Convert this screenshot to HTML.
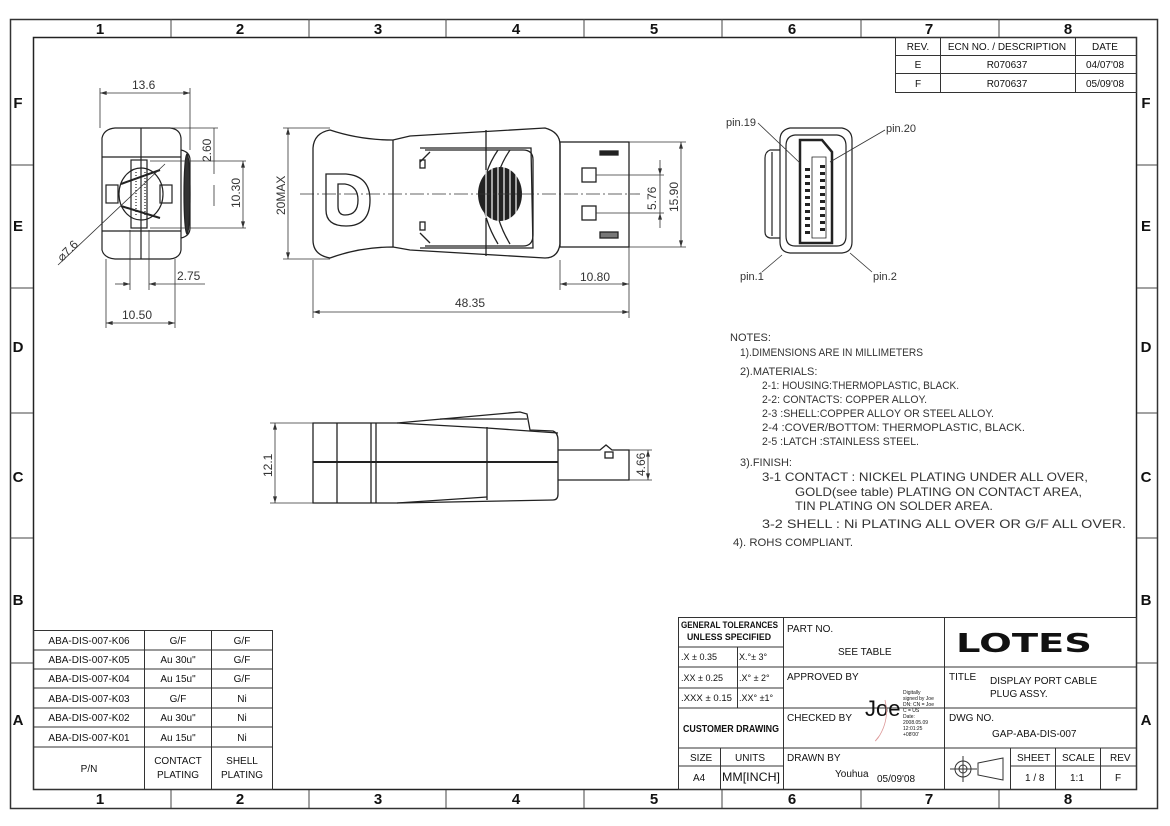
<!DOCTYPE html>
<html><head><meta charset="utf-8"><style>
html,body{margin:0;padding:0;background:#fff}
svg{display:block}
text{font-family:"Liberation Sans",sans-serif}
</style></head><body>
<svg width="1170" height="826" viewBox="0 0 1170 826" xmlns="http://www.w3.org/2000/svg">
<defs>
<marker id="a" viewBox="0 0 10 6" refX="10" refY="3" markerWidth="8" markerHeight="4" orient="auto-start-reverse" markerUnits="userSpaceOnUse"><path d="M0 0 L10 3 L0 6 Z" fill="#333"/></marker>
</defs>
<rect width="1170" height="826" fill="#fff"/>
<!-- frame -->
<rect x="10.5" y="19.5" width="1147" height="789" fill="none" stroke="#333" stroke-width="1.5"/>
<rect x="33.5" y="37.5" width="1103" height="752" fill="none" stroke="#222" stroke-width="1.5"/>
<g stroke="#444" stroke-width="1">
<line x1="171" y1="19" x2="171" y2="37"/><line x1="309" y1="19" x2="309" y2="37"/><line x1="446" y1="19" x2="446" y2="37"/><line x1="584" y1="19" x2="584" y2="37"/><line x1="722" y1="19" x2="722" y2="37"/><line x1="861" y1="19" x2="861" y2="37"/><line x1="999" y1="19" x2="999" y2="37"/>
<line x1="171" y1="790" x2="171" y2="808"/><line x1="309" y1="790" x2="309" y2="808"/><line x1="446" y1="790" x2="446" y2="808"/><line x1="584" y1="790" x2="584" y2="808"/><line x1="722" y1="790" x2="722" y2="808"/><line x1="861" y1="790" x2="861" y2="808"/><line x1="999" y1="790" x2="999" y2="808"/>
<line x1="10" y1="165" x2="33" y2="165"/><line x1="10" y1="288" x2="33" y2="288"/><line x1="10" y1="413" x2="33" y2="413"/><line x1="10" y1="538" x2="33" y2="538"/><line x1="10" y1="663" x2="33" y2="663"/>
<line x1="1137" y1="165" x2="1157" y2="165"/><line x1="1137" y1="288" x2="1157" y2="288"/><line x1="1137" y1="413" x2="1157" y2="413"/><line x1="1137" y1="538" x2="1157" y2="538"/><line x1="1137" y1="663" x2="1157" y2="663"/>
</g>
<g font-weight="bold" font-size="15" text-anchor="middle" fill="#111">
<text x="100" y="34">1</text><text x="240" y="34">2</text><text x="378" y="34">3</text><text x="516" y="34">4</text><text x="654" y="34">5</text><text x="792" y="34">6</text><text x="929" y="34">7</text><text x="1068" y="34">8</text>
<text x="100" y="804">1</text><text x="240" y="804">2</text><text x="378" y="804">3</text><text x="516" y="804">4</text><text x="654" y="804">5</text><text x="792" y="804">6</text><text x="929" y="804">7</text><text x="1068" y="804">8</text>
<text x="18" y="108">F</text><text x="18" y="231">E</text><text x="18" y="352">D</text><text x="18" y="482">C</text><text x="18" y="605">B</text><text x="18" y="725">A</text>
<text x="1146" y="108">F</text><text x="1146" y="231">E</text><text x="1146" y="352">D</text><text x="1146" y="482">C</text><text x="1146" y="605">B</text><text x="1146" y="725">A</text>
</g>
<!-- REV table -->
<g stroke="#333" fill="none" stroke-width="1">
<rect x="895.5" y="37.5" width="241" height="55"/>
<line x1="895" y1="55.5" x2="1137" y2="55.5"/><line x1="895" y1="73.5" x2="1137" y2="73.5"/>
<line x1="940.5" y1="37" x2="940.5" y2="92"/><line x1="1075.5" y1="37" x2="1075.5" y2="92"/>
</g>
<g font-size="10" text-anchor="middle" fill="#111">
<text x="918" y="50">REV.</text><text x="1007" y="50">ECN NO. / DESCRIPTION</text><text x="1105" y="50">DATE</text>
<text x="918" y="68">E</text><text x="1007" y="68">R070637</text><text x="1105" y="68">04/07'08</text>
<text x="918" y="87">F</text><text x="1007" y="87">R070637</text><text x="1105" y="87">05/09'08</text>
</g>

<!-- END VIEW left -->
<g stroke="#222" fill="none" stroke-width="1.2">
<path d="M102 138 Q104 129 115 128 L170 128 Q180 129 181 138 L181 250 Q180 258 170 259 L115 259 Q104 258 102 250 Z"/>
<line x1="102" y1="157" x2="181" y2="157"/><line x1="102" y1="231" x2="181" y2="231"/>
<line x1="141" y1="128" x2="141" y2="259"/>
<path d="M181 150 Q190 152 190 160 L190 228 Q190 236 181 238"/>
<ellipse cx="187" cy="194" rx="3" ry="40" fill="#333"/>
<rect x="131" y="160" width="16" height="68"/>
<rect x="106" y="185" width="12" height="18"/><rect x="160" y="185" width="12" height="18"/>
<ellipse cx="141" cy="194" rx="22" ry="26"/>
<path d="M121 184 L160 170 M121 206 L160 218" stroke-width="2"/>
<line x1="136" y1="172" x2="136" y2="216" stroke-dasharray="1 2"/><line x1="145" y1="172" x2="145" y2="216" stroke-dasharray="1 2"/>
</g>
<g stroke="#333" fill="none" stroke-width="0.8">
<line x1="100" y1="88" x2="100" y2="128"/><line x1="190" y1="88" x2="190" y2="150"/>
<line x1="100" y1="93" x2="190" y2="93" marker-start="url(#a)" marker-end="url(#a)"/>
<line x1="150" y1="128" x2="218" y2="128"/><line x1="150" y1="161" x2="246" y2="161"/><line x1="150" y1="228" x2="246" y2="228"/>
<line x1="214" y1="128" x2="214" y2="174"/><line x1="243" y1="161" x2="243" y2="228" marker-start="url(#a)" marker-end="url(#a)"/>
<line x1="214" y1="185" x2="214" y2="206"/>
<line x1="130" y1="230" x2="130" y2="290"/><line x1="149" y1="230" x2="149" y2="290"/>
<line x1="115" y1="284" x2="130" y2="284" marker-end="url(#a)"/><line x1="205" y1="284" x2="149" y2="284" marker-end="url(#a)"/>
<line x1="106" y1="259" x2="106" y2="328"/><line x1="175" y1="259" x2="175" y2="328"/>
<line x1="106" y1="323" x2="175" y2="323" marker-start="url(#a)" marker-end="url(#a)"/>
<line x1="58" y1="265" x2="165" y2="164"/>
</g>
<g font-size="12" fill="#333">
<text x="132" y="89">13.6</text>
<text transform="translate(211,162) rotate(-90)">2.60</text>
<text transform="translate(240,208) rotate(-90)">10.30</text>
<text x="177" y="280">2.75</text>
<text x="122" y="319">10.50</text>
<text transform="translate(62,262) rotate(-45)">⌀7.6</text>
</g>

<!-- TOP VIEW -->
<g stroke="#222" fill="none" stroke-width="1.3">
<path d="M330 130 Q360 140 393 140 L410 136 L545 128 Q560 132 560 145 L560 244 Q558 258 545 258 L410 250 L393 247 Q360 247 330 258 Q313 255 313 240 L313 148 Q314 133 330 130 Z"/>
<line x1="393" y1="140" x2="393" y2="247"/><line x1="486" y1="130" x2="486" y2="256"/>
<path d="M420 148 L531 148 L533 248 L420 248"/>
<path d="M425 150 L523 150 Q533 150 533 160 L533 235 Q533 246 523 246 L425 246"/>
<path d="M420 162 L430 152 M420 233 L430 243"/>
<rect x="420" y="160" width="5" height="8"/><rect x="420" y="222" width="5" height="8"/>
<path d="M498 150 Q468 194 498 244 M510 150 Q480 194 510 244"/>
<rect x="560" y="142" width="69" height="105"/>
<rect x="582" y="168" width="14" height="14"/><rect x="582" y="206" width="14" height="14"/>
<rect x="600" y="151" width="18" height="4" fill="#222"/><rect x="600" y="232" width="18" height="6" fill="#777"/>
<path d="M326 174 L346 174 Q370 176 370 200 Q370 226 346 226 Q326 226 326 210 Z M338 184 L345 184 Q358 186 358 200 Q358 215 345 215 Q338 215 338 206 Z"/>
</g>
<g fill="#222">
<ellipse cx="500" cy="194" rx="22" ry="27"/>
</g>
<g stroke="#fff" stroke-width="1.2">
<line x1="486" y1="170" x2="486" y2="218"/><line x1="492" y1="168" x2="492" y2="220"/><line x1="498" y1="167" x2="498" y2="221"/><line x1="504" y1="167" x2="504" y2="221"/><line x1="510" y1="168" x2="510" y2="220"/><line x1="516" y1="171" x2="516" y2="217"/>
</g>
<g stroke="#333" fill="none" stroke-width="0.8">
<line x1="300" y1="194" x2="640" y2="194" stroke-dasharray="14 3 2 3"/>
<line x1="283" y1="128" x2="330" y2="128"/><line x1="283" y1="259" x2="330" y2="259"/>
<line x1="288" y1="128" x2="288" y2="259" marker-start="url(#a)" marker-end="url(#a)"/>
<line x1="629" y1="142" x2="686" y2="142"/><line x1="629" y1="247" x2="686" y2="247"/>
<line x1="681" y1="142" x2="681" y2="247" marker-start="url(#a)" marker-end="url(#a)"/>
<line x1="596" y1="175" x2="664" y2="175"/><line x1="596" y1="213" x2="664" y2="213"/>
<line x1="660" y1="160" x2="660" y2="175" marker-end="url(#a)"/><line x1="660" y1="228" x2="660" y2="213" marker-end="url(#a)"/><line x1="660" y1="175" x2="660" y2="213"/>
<line x1="560" y1="260" x2="560" y2="290"/><line x1="629" y1="247" x2="629" y2="318"/>
<line x1="560" y1="284" x2="629" y2="284" marker-start="url(#a)" marker-end="url(#a)"/>
<line x1="313" y1="260" x2="313" y2="318"/>
<line x1="313" y1="312" x2="629" y2="312" marker-start="url(#a)" marker-end="url(#a)"/>
</g>
<g font-size="12" fill="#333">
<text transform="translate(285,215) rotate(-90)">20MAX</text>
<text transform="translate(678,212) rotate(-90)">15.90</text>
<text transform="translate(656,210) rotate(-90)">5.76</text>
<text x="580" y="281">10.80</text>
<text x="455" y="307">48.35</text>
</g>

<!-- SIDE VIEW -->
<g stroke="#222" fill="none" stroke-width="1.3">
<path d="M313 423 L397 423 L520 412 L527 414 L530 430 L553 431 Q558 433 558 440 L558 494 Q558 500 553 500 L397 503 L313 503 Z"/>
<line x1="313" y1="462" x2="558" y2="462" stroke-width="2"/>
<line x1="337" y1="423" x2="337" y2="503"/><line x1="371" y1="423" x2="371" y2="503"/><line x1="376" y1="423" x2="376" y2="503"/>
<line x1="487" y1="427" x2="487" y2="500"/>
<path d="M397 423 L487 428 L558 433 M397 503 L487 497"/>
<line x1="440" y1="419" x2="527" y2="419"/>
<path d="M558 450 L600 450 L606 445 L612 450 L629 450 L629 480 L558 480"/>
<rect x="605" y="452" width="8" height="6"/>
</g>
<g stroke="#333" fill="none" stroke-width="0.8">
<line x1="270" y1="423" x2="313" y2="423"/><line x1="270" y1="503" x2="313" y2="503"/>
<line x1="275" y1="423" x2="275" y2="503" marker-start="url(#a)" marker-end="url(#a)"/>
<line x1="629" y1="450" x2="652" y2="450"/><line x1="629" y1="480" x2="652" y2="480"/>
<line x1="648" y1="450" x2="648" y2="480" marker-start="url(#a)" marker-end="url(#a)"/>
</g>
<g font-size="12" fill="#333">
<text transform="translate(272,477) rotate(-90)">12.1</text>
<text transform="translate(645,476) rotate(-90)">4.66</text>
</g>

<!-- PIN VIEW -->
<g stroke="#222" fill="none" stroke-width="1.2">
<path d="M790 128 L842 128 Q852 130 852 140 L852 242 Q852 252 842 253 L790 253 Q780 252 780 242 L780 140 Q780 130 790 128 Z"/>
<path d="M795 135 L837 135 Q846 136 846 146 L846 236 Q846 246 837 246 L795 246 Q786 246 786 236 L786 146 Q786 136 795 135 Z"/>
<path d="M780 150 L770 150 Q765 152 765 158 L765 232 Q765 237 770 238 L780 238"/>
<line x1="772" y1="152" x2="772" y2="236"/>
<path d="M800 140 L822 140 L832 152 L832 243 L800 243 Z" stroke-width="2.5"/>
<path d="M812 157 L826 157 L826 238 L812 238 Z" stroke-width="0.8"/>
</g>
<g fill="#222">
<rect x="805" y="168" width="5" height="3"/><rect x="805" y="175" width="5" height="3"/><rect x="805" y="182" width="5" height="3"/><rect x="805" y="189" width="5" height="3"/><rect x="805" y="196" width="5" height="3"/><rect x="805" y="203" width="5" height="3"/><rect x="805" y="210" width="5" height="3"/><rect x="805" y="217" width="5" height="3"/><rect x="805" y="224" width="5" height="3"/><rect x="805" y="231" width="5" height="3"/>
<rect x="820" y="165" width="5" height="3"/><rect x="820" y="172" width="5" height="3"/><rect x="820" y="179" width="5" height="3"/><rect x="820" y="186" width="5" height="3"/><rect x="820" y="193" width="5" height="3"/><rect x="820" y="200" width="5" height="3"/><rect x="820" y="207" width="5" height="3"/><rect x="820" y="214" width="5" height="3"/><rect x="820" y="221" width="5" height="3"/><rect x="820" y="228" width="5" height="3"/>
</g>
<g stroke="#333" stroke-width="0.8">
<line x1="758" y1="123" x2="800" y2="163"/><line x1="885" y1="130" x2="830" y2="162"/>
<line x1="762" y1="272" x2="782" y2="255"/><line x1="872" y1="272" x2="850" y2="253"/>
</g>
<g font-size="11" fill="#333">
<text x="726" y="126">pin.19</text><text x="886" y="132">pin.20</text><text x="740" y="280">pin.1</text><text x="873" y="280">pin.2</text>
</g>

<!-- NOTES -->
<g font-size="11" fill="#333" lengthAdjust="spacingAndGlyphs">
<text x="730" y="341">NOTES:</text>
<text x="740" y="356" textLength="183" lengthAdjust="spacingAndGlyphs">1).DIMENSIONS ARE IN MILLIMETERS</text>
<text x="740" y="375">2).MATERIALS:</text>
<text x="762" y="389" textLength="197" lengthAdjust="spacingAndGlyphs">2-1: HOUSING:THERMOPLASTIC, BLACK.</text>
<text x="762" y="403" textLength="165" lengthAdjust="spacingAndGlyphs">2-2: CONTACTS: COPPER ALLOY.</text>
<text x="762" y="417" textLength="232" lengthAdjust="spacingAndGlyphs">2-3 :SHELL:COPPER ALLOY OR STEEL ALLOY.</text>
<text x="762" y="431" textLength="263" lengthAdjust="spacingAndGlyphs">2-4 :COVER/BOTTOM: THERMOPLASTIC, BLACK.</text>
<text x="762" y="445" textLength="157" lengthAdjust="spacingAndGlyphs">2-5 :LATCH :STAINLESS STEEL.</text>
<text x="740" y="466">3).FINISH:</text>
<text x="762" y="481" font-size="12" textLength="326" lengthAdjust="spacingAndGlyphs">3-1  CONTACT : NICKEL PLATING UNDER ALL OVER,</text>
<text x="795" y="496" font-size="12" textLength="287" lengthAdjust="spacingAndGlyphs">GOLD(see table) PLATING ON CONTACT AREA,</text>
<text x="795" y="510" font-size="12" textLength="198" lengthAdjust="spacingAndGlyphs">TIN PLATING ON SOLDER AREA.</text>
<text x="762" y="528" font-size="12" textLength="364" lengthAdjust="spacingAndGlyphs">3-2  SHELL : Ni PLATING ALL OVER OR G/F ALL OVER.</text>
<text x="733" y="546" textLength="120" lengthAdjust="spacingAndGlyphs">4). ROHS COMPLIANT.</text>
</g>

<!-- P/N table -->
<g stroke="#333" fill="none" stroke-width="1">
<rect x="33.5" y="630.5" width="239" height="159"/>
<line x1="33" y1="650" x2="272" y2="650"/><line x1="33" y1="669" x2="272" y2="669"/><line x1="33" y1="688" x2="272" y2="688"/><line x1="33" y1="708" x2="272" y2="708"/><line x1="33" y1="727" x2="272" y2="727"/><line x1="33" y1="747" x2="272" y2="747"/>
<line x1="144.5" y1="630" x2="144.5" y2="790"/><line x1="211.5" y1="630" x2="211.5" y2="790"/>
</g>
<g font-size="10" text-anchor="middle" fill="#111">
<text x="89" y="644">ABA-DIS-007-K06</text><text x="178" y="644">G/F</text><text x="242" y="644">G/F</text>
<text x="89" y="663">ABA-DIS-007-K05</text><text x="178" y="663">Au 30u"</text><text x="242" y="663">G/F</text>
<text x="89" y="682">ABA-DIS-007-K04</text><text x="178" y="682">Au 15u"</text><text x="242" y="682">G/F</text>
<text x="89" y="702">ABA-DIS-007-K03</text><text x="178" y="702">G/F</text><text x="242" y="702">Ni</text>
<text x="89" y="721">ABA-DIS-007-K02</text><text x="178" y="721">Au 30u"</text><text x="242" y="721">Ni</text>
<text x="89" y="741">ABA-DIS-007-K01</text><text x="178" y="741">Au 15u"</text><text x="242" y="741">Ni</text>
<text x="89" y="772">P/N</text><text x="178" y="764">CONTACT</text><text x="178" y="778">PLATING</text><text x="242" y="764">SHELL</text><text x="242" y="778">PLATING</text>
</g>

<!-- Title block -->
<g stroke="#333" fill="none" stroke-width="1">
<rect x="678.5" y="617.5" width="458" height="172"/>
<line x1="783.5" y1="617" x2="783.5" y2="790"/><line x1="944.5" y1="617" x2="944.5" y2="790"/>
<line x1="678" y1="647" x2="783" y2="647"/><line x1="678" y1="667" x2="1137" y2="667"/><line x1="678" y1="688" x2="783" y2="688"/><line x1="678" y1="708" x2="1137" y2="708"/><line x1="678" y1="748" x2="1137" y2="748"/><line x1="678" y1="766" x2="783" y2="766"/><line x1="1010" y1="766" x2="1137" y2="766"/>
<line x1="737.5" y1="647" x2="737.5" y2="708"/><line x1="720.5" y1="748" x2="720.5" y2="790"/>
<line x1="1010.5" y1="748" x2="1010.5" y2="790"/><line x1="1055.5" y1="748" x2="1055.5" y2="790"/><line x1="1100.5" y1="748" x2="1100.5" y2="790"/>
<circle cx="963" cy="769" r="8"/><circle cx="963" cy="769" r="4"/><line x1="950" y1="769" x2="977" y2="769"/><line x1="963" y1="756" x2="963" y2="782"/>
<path d="M978 763 L1003 758 L1003 780 L978 775 Z"/>
</g>
<g font-size="10" fill="#111">
<text x="681" y="628" font-weight="bold" font-size="9" textLength="97" lengthAdjust="spacingAndGlyphs">GENERAL TOLERANCES</text>
<text x="687" y="640" font-weight="bold" font-size="9" textLength="84" lengthAdjust="spacingAndGlyphs">UNLESS  SPECIFIED</text>
<text x="681" y="660" font-size="9">.X ± 0.35</text><text x="739" y="660" font-size="9">X.°± 3°</text>
<text x="681" y="681" font-size="9">.XX ± 0.25</text><text x="739" y="681" font-size="9">.X° ± 2°</text>
<text x="681" y="701" font-size="9" textLength="51" lengthAdjust="spacingAndGlyphs">.XXX ± 0.15</text><text x="739" y="701" font-size="9">.XX° ±1°</text>
<text x="683" y="732" font-weight="bold" font-size="10" textLength="96" lengthAdjust="spacingAndGlyphs">CUSTOMER DRAWING</text>
<text x="690" y="761">SIZE</text><text x="735" y="761">UNITS</text>
<text x="693" y="781">A4</text><text x="722" y="781" font-size="12" textLength="58" lengthAdjust="spacingAndGlyphs">MM[INCH]</text>
<text x="787" y="632">PART NO.</text><text x="838" y="655">SEE TABLE</text>
<text x="787" y="680">APPROVED BY</text>
<text x="787" y="721">CHECKED BY</text>
<text x="787" y="761">DRAWN BY</text>
<text x="835" y="777">Youhua</text><text x="877" y="782">05/09'08</text>
<text x="865" y="716" font-size="22">Joe</text>
<text x="903" y="694" font-size="5">Digitally</text><text x="903" y="700" font-size="5">signed by Joe</text><text x="903" y="706" font-size="5">DN: CN = Joe</text><text x="903" y="712" font-size="5">C = US</text><text x="903" y="718" font-size="5">Date:</text><text x="903" y="724" font-size="5">2008.05.09</text><text x="903" y="730" font-size="5">12:01:25</text><text x="903" y="736" font-size="5">+08'00'</text>
<text x="949" y="680">TITLE</text>
<text x="990" y="684">DISPLAY PORT CABLE</text><text x="990" y="697">PLUG ASSY.</text>
<text x="949" y="721">DWG NO.</text><text x="992" y="737">GAP-ABA-DIS-007</text>
<text x="1017" y="761">SHEET</text><text x="1062" y="761">SCALE</text><text x="1110" y="761">REV</text>
<text x="1025" y="781">1 / 8</text><text x="1070" y="781">1:1</text><text x="1115" y="781">F</text>
</g>
<path d="M885 700 Q890 720 878 738 Q872 745 880 735" stroke="#d99" fill="none" stroke-width="0.8"/>
<text x="956" y="652" font-size="26" font-weight="bold" fill="#111" textLength="136" lengthAdjust="spacingAndGlyphs" style="font-family:'DejaVu Sans','Liberation Sans',sans-serif">LOTES</text>
</svg>
</body></html>
